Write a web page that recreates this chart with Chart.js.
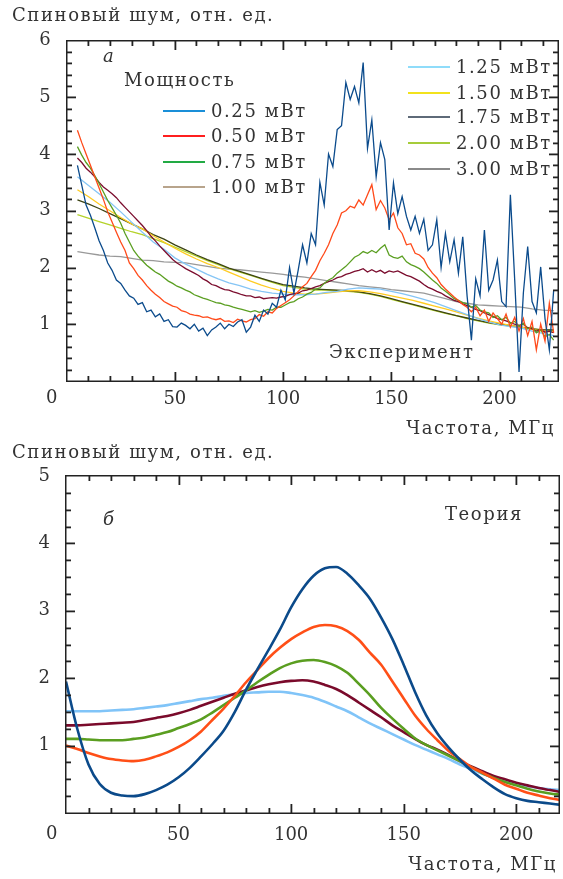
<!DOCTYPE html>
<html lang="ru">

<head>
    <title>Спиновый шум</title>
    <meta charset="utf-8">
    <script src="https://cdn.jsdelivr.net/npm/chart.js"></script>
    <style>
        body { margin: 0; background: #fff; }
        #wrap { position: relative; width: 563px; height: 879px; overflow: hidden; background: #fff; }
        canvas { position: absolute; left: 0; }
        .lbl {
            position: absolute; white-space: nowrap; color: #333;
            font-family: "DejaVu Serif", serif; font-size: 18px; line-height: 20px;
            letter-spacing: 1.6px;
        }
        .it { font-style: italic; }
        .swatch { position: absolute; height: 2px; }
    </style>
</head>

<body>
    <div id="wrap">
        <canvas id="expChart" width="563" height="440" style="top:0"></canvas>
        <canvas id="theoryChart" width="563" height="439" style="top:440px"></canvas>

        <div class="lbl" style="left:12px;top:5px">Спиновый шум, отн. ед.</div>
        <div class="lbl it" style="left:103px;top:46px">а</div>
        <div class="lbl" style="left:124px;top:70px">Мощность</div>
        <div class="lbl" style="left:329px;top:342px">Эксперимент</div>
        <div class="lbl" style="left:46px;top:387px">0</div>
        <div class="lbl" style="right:8px;top:418px">Частота, МГц</div>

        <div class="lbl" style="left:12px;top:442px">Спиновый шум, отн. ед.</div>
        <div class="lbl it" style="left:103px;top:509px">б</div>
        <div class="lbl" style="left:445px;top:504px">Теория</div>
        <div class="lbl" style="left:46px;top:823px">0</div>
        <div class="lbl" style="right:6px;top:854px">Частота, МГц</div>
        <div id="legend"></div>
    </div>

    <script>
        // ---- experiment (panel а) ----
        const freqStep2 = [
            5, 7, 9, 11, 13, 15, 17, 19, 21, 23,
            25, 27, 29, 31, 33, 35, 37, 39, 41, 43,
            45, 47, 49, 51, 53, 55, 57, 59, 61, 63,
            65, 67, 69, 71, 73, 75, 77, 79, 81, 83,
            85, 87, 89, 91, 93, 95, 97, 99, 101, 103,
            105, 107, 109, 111, 113, 115, 117, 119, 121, 123,
            125, 127, 129, 131, 133, 135, 137, 139, 141, 143,
            145, 147, 149, 151, 153, 155, 157, 159, 161, 163,
            165, 167, 169, 171, 173, 175, 177, 179, 181, 183,
            185, 187, 189, 191, 193, 195, 197, 199, 201, 203,
            205, 207, 209, 211, 213, 215, 217, 219, 221, 223,
            225
        ];
        const freqStep5 = [
            5, 10, 15, 20, 25, 30, 35, 40, 45,
            50, 55, 60, 65, 70, 75, 80, 85, 90,
            95, 100, 105, 110, 115, 120, 125, 130, 135,
            140, 145, 150, 155, 160, 165, 170, 175, 180,
            185, 190, 195, 200, 205, 210, 215, 220, 225
        ];

        const exp025 = [
            3.80, 3.45, 3.10, 2.92, 2.70, 2.47, 2.30, 2.08, 1.95, 1.78,
            1.72, 1.60, 1.50, 1.46, 1.35, 1.38, 1.22, 1.25, 1.13, 1.18,
            1.05, 1.08, 0.96, 0.95, 1.02, 0.98, 0.92, 1.00, 0.88, 0.93,
            0.80, 0.90, 0.95, 1.02, 0.92, 1.00, 0.96, 1.04, 1.08, 0.86,
            0.95, 1.16, 1.05, 1.25, 1.18, 1.37, 1.30, 1.60, 1.43, 2.00,
            1.55, 1.96, 2.40, 2.08, 2.60, 2.40, 3.50, 3.10, 4.00, 3.78,
            4.43, 4.50, 5.26, 4.96, 5.19, 4.90, 5.61, 4.10, 4.60, 3.60,
            4.20, 3.90, 2.66, 3.49, 2.95, 3.25, 2.90, 2.66, 2.90, 2.60,
            2.85, 2.30, 2.40, 2.84, 2.00, 2.60, 2.10, 2.49, 1.90, 2.54,
            1.50, 0.72, 1.80, 1.50, 2.66, 1.60, 1.78, 2.13, 1.40, 1.31,
            3.28, 1.78, 0.16, 1.55, 2.37, 1.40, 1.20, 2.01, 1.10, 0.55,
            1.60
        ];
        const exp050 = [
            4.42, 4.20, 4.00, 3.80, 3.60, 3.40, 3.20, 2.98, 2.80, 2.62,
            2.45, 2.30, 2.08, 1.98, 1.86, 1.78, 1.68, 1.60, 1.53, 1.47,
            1.40, 1.36, 1.32, 1.30, 1.24, 1.22, 1.18, 1.16, 1.15, 1.12,
            1.13, 1.10, 1.08, 1.10, 1.05, 1.06, 1.03, 1.09, 1.06, 1.04,
            1.08, 1.10, 1.17, 1.14, 1.22, 1.20, 1.28, 1.33, 1.38, 1.43,
            1.50, 1.58, 1.66, 1.72, 1.84, 1.95, 2.12, 2.25, 2.40, 2.60,
            2.75, 2.96, 3.00, 3.08, 3.05, 3.19, 3.10, 3.28, 3.46, 3.02,
            3.18, 3.05, 2.84, 2.96, 2.70, 2.60, 2.40, 2.42, 2.25, 2.22,
            2.15, 2.00, 1.90, 1.82, 1.70, 1.62, 1.55, 1.48, 1.42, 1.35,
            1.30, 1.22, 1.30, 1.15, 1.25, 1.05, 1.20, 1.10, 1.00, 1.18,
            0.95, 1.12, 0.88, 1.10, 0.80, 1.05, 0.55, 1.00, 0.70, 1.37,
            0.85
        ];
        const exp075 = [
            4.13, 3.98, 3.85, 3.75, 3.62, 3.48, 3.33, 3.18, 3.05, 2.92,
            2.78, 2.60, 2.45, 2.30, 2.20, 2.12, 2.04, 1.98, 1.92, 1.88,
            1.82, 1.76, 1.72, 1.67, 1.64, 1.60, 1.57, 1.52, 1.49, 1.46,
            1.44, 1.41, 1.38, 1.37, 1.34, 1.33, 1.30, 1.28, 1.26, 1.24,
            1.22, 1.24, 1.21, 1.23, 1.26, 1.25, 1.30, 1.30, 1.34, 1.38,
            1.40, 1.45, 1.48, 1.53, 1.56, 1.62, 1.64, 1.72, 1.78, 1.82,
            1.90, 1.96, 2.02, 2.10, 2.18, 2.22, 2.28, 2.25, 2.30, 2.26,
            2.34, 2.40, 2.22, 2.18, 2.16, 2.20, 2.10, 2.05, 2.02, 1.98,
            1.92, 1.85, 1.78, 1.72, 1.64, 1.58, 1.52, 1.45, 1.42, 1.38,
            1.36, 1.30, 1.33, 1.25, 1.22, 1.20, 1.12, 1.15, 1.08, 1.12,
            1.02, 1.05, 0.96, 1.02, 0.92, 0.95, 0.85, 0.90, 0.78, 0.82,
            0.72
        ];
        const exp100 = [
            3.93, 3.85, 3.75, 3.68, 3.60, 3.50, 3.42, 3.36, 3.30, 3.23,
            3.14, 3.06, 2.98, 2.90, 2.82, 2.74, 2.65, 2.55, 2.47, 2.38,
            2.30, 2.22, 2.14, 2.08, 2.03, 1.98, 1.94, 1.90, 1.86, 1.80,
            1.76, 1.70, 1.68, 1.64, 1.61, 1.60, 1.57, 1.55, 1.52, 1.50,
            1.50, 1.47, 1.48, 1.45, 1.46, 1.47, 1.46, 1.48, 1.49, 1.52,
            1.54, 1.55, 1.59, 1.60, 1.63, 1.66, 1.68, 1.72, 1.75, 1.78,
            1.82, 1.84, 1.88, 1.90, 1.93, 1.95, 1.98, 1.92, 1.96, 1.92,
            1.95, 1.90, 1.94, 1.92, 1.94, 1.90, 1.86, 1.84, 1.80, 1.76,
            1.70, 1.65, 1.62, 1.58, 1.55, 1.50, 1.46, 1.42, 1.40, 1.36,
            1.33, 1.30, 1.26, 1.24, 1.20, 1.17, 1.14, 1.10, 1.08, 1.06,
            1.03, 1.00, 0.98, 1.00, 0.94, 0.92, 0.88, 0.90, 0.86, 0.88,
            0.85
        ];
        const exp125 = [
            3.60, 3.45, 3.30, 3.15, 2.98, 2.80, 2.62, 2.45, 2.32,
            2.17, 2.06, 1.97, 1.88, 1.80, 1.73, 1.68, 1.62, 1.58,
            1.55, 1.53, 1.52, 1.52, 1.53, 1.56, 1.58, 1.62, 1.64,
            1.63, 1.62, 1.58, 1.54, 1.49, 1.44, 1.38, 1.31, 1.24,
            1.17, 1.10, 1.04, 0.99, 0.96, 0.93, 0.88, 0.84, 0.80
        ];
        const exp150 = [
            3.37, 3.25, 3.12, 3.00, 2.88, 2.77, 2.68, 2.56, 2.45,
            2.34, 2.24, 2.15, 2.07, 2.00, 1.92, 1.84, 1.76, 1.69,
            1.63, 1.58, 1.55, 1.53, 1.53, 1.55, 1.57, 1.59, 1.59,
            1.57, 1.54, 1.50, 1.46, 1.42, 1.37, 1.32, 1.27, 1.22,
            1.16, 1.11, 1.06, 1.02, 0.98, 0.95, 0.91, 0.88, 0.86
        ];
        const exp175 = [
            3.19, 3.12, 3.04, 2.95, 2.86, 2.77, 2.68, 2.58, 2.50,
            2.40, 2.31, 2.22, 2.14, 2.07, 1.99, 1.93, 1.87, 1.81,
            1.75, 1.70, 1.67, 1.64, 1.62, 1.61, 1.60, 1.59, 1.57,
            1.54, 1.50, 1.45, 1.40, 1.35, 1.30, 1.25, 1.20, 1.15,
            1.11, 1.07, 1.03, 1.00, 0.98, 0.95, 0.92, 0.90, 0.90
        ];
        const exp200 = [
            2.93, 2.87, 2.81, 2.75, 2.69, 2.63, 2.58, 2.51, 2.44,
            2.36, 2.28, 2.20, 2.12, 2.05, 1.98, 1.92, 1.86, 1.80,
            1.74, 1.68, 1.65, 1.62, 1.60, 1.60, 1.59, 1.58, 1.56,
            1.53, 1.49, 1.44, 1.39, 1.34, 1.29, 1.24, 1.19, 1.15,
            1.10, 1.06, 1.02, 0.99, 0.97, 0.94, 0.92, 0.90, 0.89
        ];
        const exp300 = [
            2.28, 2.25, 2.22, 2.20, 2.19, 2.16, 2.13, 2.12, 2.10,
            2.09, 2.08, 2.05, 2.02, 1.99, 1.97, 1.96, 1.94, 1.92,
            1.90, 1.88, 1.85, 1.83, 1.80, 1.77, 1.74, 1.71, 1.68,
            1.66, 1.64, 1.61, 1.59, 1.57, 1.55, 1.50, 1.45, 1.40,
            1.37, 1.34, 1.33, 1.32, 1.31, 1.30, 1.27, 1.25, 1.24
        ];

        const powerLabels = ['0.25 мВт', '0.50 мВт', '0.75 мВт', '1.00 мВт', '1.25 мВт',
            '1.50 мВт', '1.75 мВт', '2.00 мВт', '3.00 мВт'];
        const lineColors = ['#0b4b8c', '#ff4a1a', '#5b9f22', '#7b0d2e', '#85c5f5',
            '#ffcc22', '#3d4414', '#b4d22a', '#999999'];
        // the legend swatches of the original do not match the plotted colours
        const legendColors = ['#1a8fd8', '#ff1f1f', '#22aa44', '#b8a48c', '#8fdcfa',
            '#f2e21c', '#5e6a78', '#a6cc3a', '#8a8a8a'];

        // ---- theory (panel б) ----
        const freqTheory = [
            0, 5, 10, 15, 20, 25, 30, 35, 40,
            45, 50, 55, 60, 65, 70, 75, 80, 85,
            90, 95, 100, 105, 110, 115, 120, 125, 130,
            135, 140, 145, 150, 155, 160, 165, 170, 175,
            180, 185, 190, 195, 200, 205, 210, 215, 220
        ];
        const th025 = [
            1.95, 1.25, 0.72, 0.43, 0.30, 0.26, 0.25, 0.28, 0.34,
            0.42, 0.53, 0.67, 0.84, 1.02, 1.22, 1.50, 1.83, 2.13,
            2.42, 2.72, 3.05, 3.32, 3.52, 3.63, 3.65, 3.55, 3.38,
            3.18, 2.90, 2.58, 2.20, 1.80, 1.45, 1.18, 0.97, 0.79,
            0.63, 0.50, 0.38, 0.28, 0.22, 0.18, 0.16, 0.14, 0.12
        ];
        const th050 = [
            1.00, 0.95, 0.89, 0.84, 0.80, 0.78, 0.77, 0.79, 0.84,
            0.90, 0.98, 1.08, 1.21, 1.38, 1.55, 1.74, 1.94, 2.12,
            2.30, 2.45, 2.58, 2.68, 2.76, 2.79, 2.77, 2.70, 2.57,
            2.38, 2.20, 1.95, 1.70, 1.45, 1.25, 1.08, 0.92, 0.80,
            0.68, 0.60, 0.51, 0.42, 0.36, 0.30, 0.26, 0.22, 0.19
        ];
        const th075 = [
            1.10, 1.10, 1.09, 1.08, 1.08, 1.08, 1.10, 1.12, 1.16,
            1.20, 1.26, 1.32, 1.39, 1.49, 1.60, 1.71, 1.82, 1.94,
            2.05, 2.15, 2.22, 2.26, 2.27, 2.24, 2.18, 2.08, 1.92,
            1.75, 1.56, 1.40, 1.25, 1.11, 1.01, 0.93, 0.85, 0.77,
            0.68, 0.59, 0.52, 0.46, 0.41, 0.36, 0.32, 0.29, 0.27
        ];
        const th100 = [
            1.30, 1.30, 1.31, 1.32, 1.33, 1.34, 1.35, 1.38, 1.41,
            1.44, 1.48, 1.53, 1.59, 1.65, 1.71, 1.77, 1.82, 1.87,
            1.91, 1.94, 1.96, 1.97, 1.95, 1.90, 1.84, 1.75, 1.64,
            1.53, 1.42, 1.30, 1.20, 1.10, 1.01, 0.94, 0.86, 0.77,
            0.69, 0.62, 0.55, 0.50, 0.45, 0.41, 0.37, 0.34, 0.31
        ];
        const th125 = [
            1.51, 1.51, 1.51, 1.51, 1.52, 1.53, 1.54, 1.56, 1.58,
            1.60, 1.63, 1.66, 1.69, 1.71, 1.74, 1.76, 1.78, 1.79,
            1.80, 1.80, 1.78, 1.75, 1.71, 1.65, 1.58, 1.51, 1.42,
            1.33, 1.25, 1.17, 1.09, 1.01, 0.94, 0.87, 0.80, 0.72,
            0.65, 0.58, 0.52, 0.47, 0.43, 0.40, 0.37, 0.35, 0.34
        ];
        const theoryColors = ['#0b4a8a', '#ff4f17', '#5a9e20', '#7a0a2b', '#80c4f8'];

        const serif = 'DejaVu Serif';
        const axisColor = '#333333';

        const toPoints = (xs, ys) => xs.map((x, i) => ({ x: x, y: ys[i] }));

        const isMultiple = (v, step) => Math.abs(v / step - Math.round(v / step)) < 1e-6;

        // closed frame with inward major/minor ticks on all four sides
        function makeFramePlugin(xTop, xMajor, xMinor, yTop, yMajor, yMinor) {
            return {
                id: 'frameTicks',
                afterDraw: function (chart) {
                    const ctx = chart.ctx;
                    const area = chart.chartArea;
                    const sx = chart.scales.x;
                    const sy = chart.scales.y;
                    const L = Math.round(area.left), R = Math.round(area.right);
                    const T = Math.round(area.top), B = Math.round(area.bottom);
                    const tw = 1.8;
                    ctx.save();
                    ctx.fillStyle = '#222222';
                    ctx.fillRect(L - 1, T - 1, R - L + 2, 1.5);
                    ctx.fillRect(L - 1, B - 0.5, R - L + 2, 1.5);
                    ctx.fillRect(L - 1, T - 1, 1.5, B - T + 2);
                    ctx.fillRect(R - 0.5, T - 1, 1.5, B - T + 2);
                    for (let v = xMinor; v < xTop; v += xMinor) {
                        const len = isMultiple(v, xMajor) ? 9 : 5;
                        const px = Math.round(sx.getPixelForValue(v));
                        ctx.fillRect(px - 0.5, B - len, tw, len);
                        ctx.fillRect(px - 0.5, T, tw, len);
                    }
                    for (let k = 1; k * yMinor < yTop - 1e-6; k++) {
                        const v = k * yMinor;
                        const len = isMultiple(v, yMajor) ? 9 : 5;
                        const py = Math.round(sy.getPixelForValue(v));
                        ctx.fillRect(L, py - 0.5, len, tw);
                        ctx.fillRect(R - len, py - 0.5, len, tw);
                    }
                    ctx.restore();
                }
            };
        }

        const makeScales = (xMax, yMax, yStep, yAxisWidth, xAxisHeight, xPad) => ({
            x: {
                type: 'linear', min: 0, max: xMax,
                grid: { display: false }, border: { display: false },
                afterFit: (s) => { s.height = xAxisHeight; },
                ticks: {
                    stepSize: 10, autoSkip: false, maxRotation: 0, padding: xPad,
                    color: axisColor, font: { family: serif, size: 18 },
                    callback: (v) => (v > 0 && isMultiple(v, 50)) ? v : ''
                }
            },
            y: {
                type: 'linear', min: 0, max: yMax,
                grid: { display: false }, border: { display: false },
                afterFit: (s) => { s.width = yAxisWidth; },
                ticks: {
                    stepSize: yStep, autoSkip: false, padding: 8,
                    color: axisColor, font: { family: serif, size: 18 },
                    callback: (v) => (v > 0 && isMultiple(v, 1)) ? Math.round(v) : ''
                }
            }
        });

        document.addEventListener('DOMContentLoaded', () => {
            const expSeries = [
                [freqStep2, exp025], [freqStep2, exp050], [freqStep2, exp075],
                [freqStep2, exp100], [freqStep5, exp125], [freqStep5, exp150],
                [freqStep5, exp175], [freqStep5, exp200], [freqStep5, exp300]
            ];

            new Chart(document.getElementById('expChart'), {
                type: 'line',
                data: {
                    datasets: expSeries.map((s, i) => ({
                        label: powerLabels[i],
                        data: toPoints(s[0], s[1]),
                        borderColor: lineColors[i],
                        borderWidth: 1.3,
                        pointRadius: 0,
                        tension: 0
                    }))
                },
                options: {
                    responsive: false,
                    animation: false,
                    layout: { padding: { left: 0, right: 5, top: 40.5, bottom: 0 } },
                    scales: makeScales(227, 6, 0.2, 66.6, 59, 0),
                    plugins: {
                        legend: { display: false },
                        tooltip: { enabled: false }
                    }
                },
                plugins: [makeFramePlugin(227, 50, 10, 6, 1, 0.2)]
            });

            const theorySeries = [th025, th050, th075, th100, th125];
            new Chart(document.getElementById('theoryChart'), {
                type: 'line',
                data: {
                    datasets: theorySeries.map((vals, i) => ({
                        label: powerLabels[i],
                        data: toPoints(freqTheory, vals),
                        borderColor: theoryColors[i],
                        borderWidth: 2.6,
                        pointRadius: 0,
                        cubicInterpolationMode: 'monotone'
                    }))
                },
                options: {
                    responsive: false,
                    animation: false,
                    layout: { padding: { left: 0, right: 1, top: 36, bottom: 0 } },
                    scales: makeScales(219, 5, 0.25, 66, 66, 4),
                    plugins: {
                        legend: { display: false },
                        tooltip: { enabled: false }
                    }
                },
                plugins: [makeFramePlugin(219, 50, 10, 5, 1, 0.25)]
            });

            // legend of panel а: two columns, swatch + text
            const legend = document.getElementById('legend');
            const rows = [
                [163, 111], [163, 136], [163, 162], [163, 187],
                [408, 67], [408, 93], [408, 117], [408, 143], [408, 169]
            ];
            rows.forEach((r, i) => {
                const sw = document.createElement('div');
                sw.className = 'swatch';
                sw.style.cssText = `left:${r[0]}px;top:${r[1] - 1}px;width:42px;background:${legendColors[i]}`;
                legend.appendChild(sw);
                const t = document.createElement('div');
                t.className = 'lbl';
                t.style.cssText = `left:${r[0] + 48}px;top:${r[1] - 10}px`;
                t.textContent = powerLabels[i];
                legend.appendChild(t);
            });
        });
    </script>
</body>

</html>
